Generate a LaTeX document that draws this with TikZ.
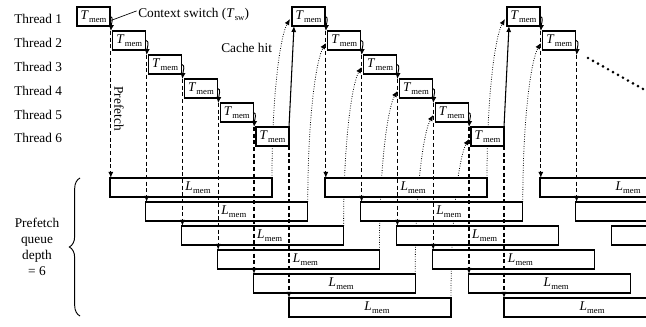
\documentclass[tikz,border=0pt]{standalone}
\usepackage{fontspec}
\setmainfont{Liberation Serif}
\usetikzlibrary{arrows.meta,decorations.pathreplacing}
\pgfdeclarelayer{bg}
\pgfsetlayers{bg,main}
\newcommand{\subtxt}[1]{\raisebox{-2.2pt}{\fontsize{6.5}{7}\selectfont #1}}
\newcommand{\Tmem}{\textit{T}\kern0.2pt\subtxt{mem}}
\newcommand{\Lmem}{\textit{L}\kern0.2pt\subtxt{mem}}
\newcommand{\Tsw}{\textit{T}\kern0.2pt\subtxt{sw}}
\tikzset{
  boxline/.style={draw, line width=0.9pt, fill=white, inner sep=0pt, outer sep=0pt, anchor=north west, minimum height=14.25pt},
  tbox/.style={boxline, minimum width=24.75pt},
  lbox/.style={boxline, minimum width=121.5pt},
  tip/.style={-{Latex[length=4.5pt,width=3.8pt]}},
  prefetch/.style={tip, line width=1pt, dash pattern=on 3pt off 2pt},
  ctx/.style={-{Latex[length=4.5pt,width=4pt]}, line width=0.7pt},
  jump/.style={tip, line width=0.8pt},
  cachehit/.style={tip, line width=0.6pt, dash pattern=on 0.6pt off 1.2pt},
  leader/.style={line width=0.5pt},
  lbl/.style={inner sep=0pt},
  bigdots/.style={line width=2.2pt, line cap=round, dash pattern=on 0pt off 4.3pt},
}
\begin{document}
\begin{tikzpicture}[x=0.75pt,y=-0.75pt]
\useasboundingbox (0,0) rectangle (646,327);
\clip (0,0) rectangle (646,327);
% boxes
\foreach \r in {0,1} {
  \foreach \i in {0,...,5} {
    \pgfmathsetmacro{\xl}{77+215*\r+35.8*\i}
    \node[tbox] (T\r\i) at (\xl,7+24*\i) {\Tmem};
    \node[lbox] (L\r\i) at (\xl+33,178+24*\i) {\kern10.5pt\Lmem};
  }
}
\foreach \i in {0,1} {
  \pgfmathsetmacro{\xl}{77+430+35.8*\i}
  \node[tbox] (T2\i) at (\xl,7+24*\i) {\Tmem};
}
\node[lbox] (L20) at (77+430+33,178) {\kern10.5pt\Lmem};
\node[lbox] (L21) at (77+430+35.8+33,202) {};
\node[lbox] (L22) at (77+430+71.6+33,226) {};
% cache hit curves (behind boxes)
\begin{pgfonlayer}{bg}
\foreach \r/\s/\m in {0/1/5, 1/2/1} {
  \foreach \i in {0,...,\m} {
    \draw[cachehit] (L\r\i.north east) .. controls +(0pt,65pt) and +(-7pt,-12pt) .. ([xshift=-1.5pt,yshift=-9pt]T\s\i.north west);
  }
}
\end{pgfonlayer}
% context switches and prefetch lines
\foreach \r/\m in {0/4,1/4,2/1} {
  \foreach \i in {0,...,\m} {
    \coordinate (c\r\i) at ([xshift=0.6pt,yshift=-18pt]T\r\i.north east);
    \draw[ctx] ([yshift=-7pt]T\r\i.north east) .. controls +(3pt,-0.5pt) and +(0.5pt,6pt) .. (c\r\i);
    \draw[prefetch] (c\r\i) -- ([xshift=0.6pt]L\r\i.north west);
  }
}
\foreach \r in {0,1} {
  \draw[prefetch] (T\r5.south east) -- (L\r5.north west);
}
\draw[jump] (T05.north east) -- ([xshift=1.5pt]T10.south west);
\draw[jump] (T15.north east) -- ([xshift=1.5pt]T20.south west);
% labels
\foreach \i in {0,...,5} {
  \pgfmathtruncatemacro{\j}{\i+1}
  \node[lbl, anchor=base west] (th\j) at (14, 24+23.8*\i) {Thread \j};
}
\node[lbl, anchor=base west] (cs) at (138,18) {Context switch (\Tsw)};
\draw[leader] ([xshift=-1pt,yshift=3pt]cs.west) -- ([xshift=1pt,yshift=-10pt]T00.north east);
\node[lbl, anchor=base west] (ch) at (221,53) {Cache hit};
\node[lbl, rotate=-90] (pf) at (119,108.5) {Prefetch};
\node[lbl, align=center] (pq) at (37,247) {Prefetch\\queue\\depth\\= 6};
\draw[line width=0.7pt, decorate, decoration={brace, amplitude=8pt}] (80,316) -- (80,178);
\coordinate (d1) at (588,58);
\coordinate (d2) at (643,89);
\draw[bigdots] (d1) -- (d2);
\end{tikzpicture}
\end{document}
